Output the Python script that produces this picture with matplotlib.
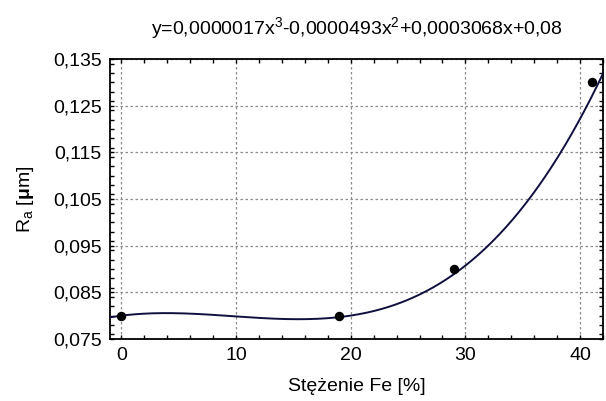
import numpy as np
import matplotlib
matplotlib.use('Agg')
import matplotlib.pyplot as plt
from matplotlib.ticker import MultipleLocator

plt.rcParams['font.family'] = ['Liberation Sans', 'DejaVu Sans']
plt.rcParams['mathtext.fontset'] = 'custom'
plt.rcParams['mathtext.rm'] = 'Liberation Sans'
plt.rcParams['mathtext.it'] = 'Liberation Sans'
plt.rcParams['mathtext.bf'] = 'Liberation Sans:bold'

# measured points
fe = [0, 19, 29, 41]
ra = [0.080, 0.080, 0.090, 0.130]

# trend line coefficients from the equation in the title (x^3, x^2, x, 1)
coef = [0.0000017, -0.0000493, 0.0003068, 0.08]

xticks = [0, 10, 20, 30, 40]
yticks = [0.075, 0.085, 0.095, 0.105, 0.115, 0.125, 0.135]


def run():
    fig = plt.figure(figsize=(6.06, 4.01), dpi=100)
    ax = fig.add_axes([110 / 606, 62 / 401, 493 / 606, 280 / 401])

    xs = np.linspace(-1, 42, 300)
    ax.plot(xs, np.polyval(coef, xs), color='#10103f', lw=1.4, zorder=3)
    ax.plot(fe, ra, 'o', color='black', ms=5.8, zorder=4, clip_on=False)

    ax.set_xlim(-1, 42)
    ax.set_ylim(0.075, 0.135)
    ax.set_xticks(xticks)
    ax.set_xticklabels([str(t) for t in xticks])
    ax.set_yticks(yticks)
    ax.set_yticklabels([f'{t:.3f}'.replace('.', ',') for t in yticks])
    ax.xaxis.set_minor_locator(MultipleLocator(2))
    ax.yaxis.set_minor_locator(MultipleLocator(0.002))

    ax.tick_params(which='both', direction='in', top=True, right=True,
                   length=3, width=1, labelsize=14, pad=6)
    ax.grid(True, which='major', linestyle=(0, (2, 2)), color='#8c8c8c', lw=0.9)
    for s in ax.spines.values():
        s.set_linewidth(1.3)

    ax.set_xlabel('Stężenie Fe [%]', fontsize=14, labelpad=10)
    ax.set_ylabel(r'R$_\mathrm{a}$ [$\mathbf{\mu}$m]', fontsize=14, labelpad=12)
    ax.set_title(r'y=0,0000017x$^3$-0,0000493x$^2$+0,0003068x+0,08',
                 fontsize=14, pad=18)

    fig.savefig('out.png', dpi=100)


run()
